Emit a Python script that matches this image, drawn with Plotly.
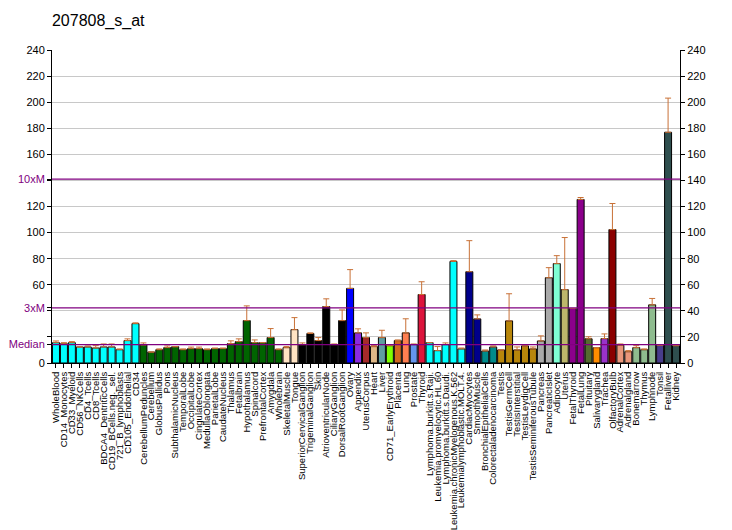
import plotly.graph_objects as go

title = "207808_s_at"

tissues = [
    "WholeBlood", "CD14_Monocytes", "CD33_Myeloid", "CD56_NKCells", "CD4_Tcells",
    "CD8_Tcells", "BDCA4_DentriticCells", "CD19_BCells.neg._sel.", "721_B_lymphoblasts",
    "CD105_Endothelial", "CD34", "CerebellumPeduncles", "Cerebellum", "GlobusPallidus",
    "Pons", "SubthalamicNucleus", "TemporalLobe", "OccipitalLobe", "CingulateCortex",
    "MedullaOblongata", "ParietalLobe", "CaudateNucleus", "Thalamus", "Fetalbrain",
    "Hypothalamus", "Spinalcord", "PrefrontalCortex", "Amygdala", "Wholebrain",
    "SkeletalMuscle", "Tongue", "SuperiorCervicalGanglion", "TrigeminalGanglion", "Skin",
    "AtrioventricularNode", "CiliaryGanglion", "DorsalRootGanglion", "Ovary", "Appendix",
    "UterusCorpus", "Heart", "Liver", "CD71_EarlyErythroid", "Placenta", "Lung",
    "Prostate", "Thyroid", "Lymphoma.burkitt.s.Raji.", "Leukemia.promyelocytic.HL.60",
    "Lymphoma.burkitt.s.Daudi.", "Leukemia.chronicMyelogenous.K.562",
    "Leukemialymphoblastic.MOLT.4.", "CardiacMyocytes", "SmoothMuscle",
    "BronchialEpithelialCells", "Colorectaladenocarcinoma", "Testis", "TestisGermCell",
    "TestisInterstitial", "TestisLeydigCell", "TestisSeminiferousTubule", "Pancreas",
    "PancreaticIslet", "Adipocyte", "Uterus", "FetalThyroid", "FetalLung", "Pituitary",
    "Salivarygland", "Trachea", "OlfactoryBulb", "AdrenalCortex", "Adrenalgland",
    "Bonemarrow", "Thymus", "Lymphnode", "Tonsil", "Fetalliver", "Kidney",
]

values = [
    15.6, 14.8, 15.6, 12.3, 12.3, 11.5, 12.3, 12.3, 10.2, 17.2,
    30.2, 13.8, 8.4, 10.2, 11.8, 12.5, 10.2, 11.0, 11.0, 10.2,
    11.0, 11.0, 14.9, 16.4, 32.5, 15.6, 15.6, 19.5, 10.2, 11.8,
    25.6, 14.1, 22.6, 17.2, 43.3, 14.1, 32.5, 57.2, 23.1, 19.5,
    12.6, 19.5, 13.3, 17.2, 23.1, 14.1, 52.5, 15.6, 9.5, 14.1,
    77.9, 10.8, 70.0, 33.8, 9.2, 12.3, 10.0, 32.3, 10.0, 13.1,
    10.8, 16.9, 65.4, 76.2, 56.3, 41.8, 125.4, 18.6, 11.8, 18.7,
    102.3, 13.6, 8.7, 11.8, 10.2, 44.6, 13.6, 176.9, 13.3,
]

err_top = [
    16.9, 15.6, 16.4, 12.3, 13.1, 13.3, 14.6, 14.6, 10.8, 18.5,
    30.8, 15.4, 8.4, 10.8, 13.1, 12.5, 10.8, 12.2, 12.2, 10.8,
    11.5, 11.5, 17.0, 18.5, 43.8, 17.7, 15.6, 26.4, 10.8, 12.6,
    34.8, 15.4, 23.1, 19.5, 49.2, 14.6, 40.7, 71.6, 26.2, 23.1,
    13.3, 25.1, 13.3, 17.7, 33.9, 14.6, 62.3, 15.6, 12.6, 15.4,
    78.5, 11.5, 93.8, 36.9, 10.0, 13.1, 10.0, 53.1, 12.3, 13.1,
    12.3, 20.8, 73.1, 82.3, 96.2, 41.8, 126.9, 20.1, 11.8, 22.3,
    122.3, 14.6, 9.5, 13.3, 10.8, 49.5, 13.6, 203.1, 13.3,
]

colors = (
    ["#00FFFF"] * 11 + ["#006400"] * 18 + ["#FFE4C4"] * 2 + ["#000000"] * 6
    + ["#0000FF", "#8A2BE2", "#A52A2A", "#DEB887", "#5F9EA0", "#7FFF00", "#D2691E",
       "#FF7F50", "#6495ED", "#DC143C"]
    + ["#00FFFF"] * 5 + ["#00008B"] * 2 + ["#008B8B"] * 2 + ["#B8860B"] * 5
    + ["#A9A9A9"] * 2 + ["#7FFFD4", "#BDB76B", "#8B008B", "#8B008B", "#556B2F",
                         "#FF8C00", "#9932CC", "#8B0000", "#E9967A", "#E9967A",
                         "#8FBC8F", "#8FBC8F", "#8FBC8F", "#483D8B", "#2F4F4F", "#2F4F4F"]
)

median = 14.1
ref_lines = [median, 3 * median, 10 * median]
ref_names = ["Median", "3xM", "10xM"]

plus = [max(t - v, 0) for t, v in zip(err_top, values)]

fig = go.Figure()
fig.add_trace(go.Bar(
    x=tissues, y=values,
    marker=dict(color=colors, line=dict(color="black", width=1)),
    error_y=dict(type="data", array=plus, arrayminus=[0] * len(values), symmetric=False,
                 color="#C87137", thickness=1, width=3),
    showlegend=False, hoverinfo="x+y",
))
fig.add_trace(go.Scatter(x=[tissues[0]], y=[0], yaxis="y2", mode="markers",
                         marker=dict(opacity=0), showlegend=False, hoverinfo="skip"))

for v in ref_lines:
    fig.add_shape(type="line", xref="paper", x0=0, x1=1, yref="y", y0=v, y1=v,
                  line=dict(color="#800080", width=1.3), layer="above")

purple = "#800080"
left_vals = [0, 20, 40, 60, 80, 100, 120, 140, 160, 180, 200, 220, 240]
left_text = ["0", "", "", "60", "80", "100", "120", "", "160", "180", "200", "220", "240"]
for v, n in zip(ref_lines, ref_names):
    left_vals.append(v)
    left_text.append(f'<span style="color:{purple}">{n}</span>')

font = "Liberation Sans, Arial, sans-serif"
fig.update_layout(
    width=732, height=530,
    margin=dict(l=52, r=52, t=50, b=167, autoexpand=False),
    paper_bgcolor="white", plot_bgcolor="white",
    bargap=0.12,
    font=dict(family=font, size=11, color="black"),
    title=dict(text=title, x=0.071, xanchor="left", y=0.962, yanchor="middle",
               font=dict(size=16, family=font, color="black")),
    xaxis=dict(type="category", range=[-0.5, len(tissues) - 0.5], tickangle=-90,
               tickmode="linear", dtick=1, automargin=False,
               ticks="outside", ticklen=4, tickcolor="black", showline=True,
               linecolor="black", linewidth=1, tickfont=dict(size=9.5), showgrid=False,
               zeroline=False),
    yaxis=dict(range=[0, 240], tickvals=left_vals, ticktext=left_text, ticks="outside",
               ticklen=4, tickcolor="black", showline=True, linecolor="black", linewidth=1,
               showgrid=False, zeroline=False, tickfont=dict(size=11), automargin=False),
    yaxis2=dict(range=[0, 240], overlaying="y", side="right", dtick=20, ticks="outside",
                ticklen=4, tickcolor="black", showline=True, linecolor="black", linewidth=1,
                showgrid=True, gridcolor="#C8C8C8", gridwidth=1, zeroline=False,
                tickfont=dict(size=11), automargin=False),
)
fig.update_layout(yaxis2_layer="below traces")

fig.write_html("out.html")
